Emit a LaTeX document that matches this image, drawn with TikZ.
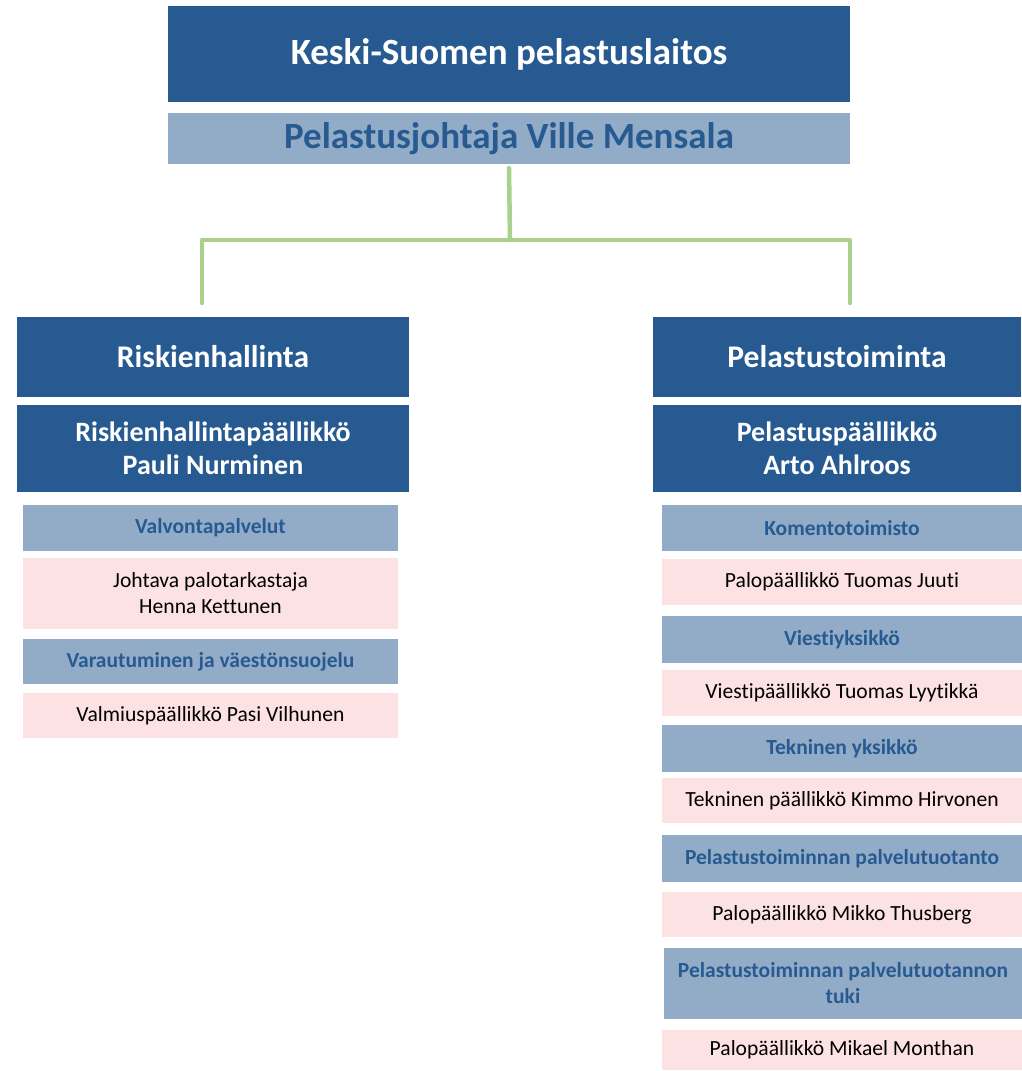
\documentclass[tikz,border=0pt]{standalone}
\usepackage{fontspec}
\setmainfont{Carlito}[Ligatures=NoCommon]
\usetikzlibrary{positioning}

\definecolor{darkblue}{RGB}{39,90,145}
\definecolor{paleblue}{RGB}{146,172,200}
\definecolor{pinkbox}{RGB}{253,226,228}
\definecolor{linkgreen}{RGB}{169,209,142}

\begin{document}
\begin{tikzpicture}[x=1pt,y=-1pt,node distance=8pt,
    unit/.style={fill=darkblue,text=white,inner sep=0pt,outer sep=0pt,align=center,
                 font=\bfseries\fontsize{31.5}{36}\selectfont},
    chief/.style={unit,font=\bfseries\fontsize{28}{33}\selectfont},
    group/.style={fill=paleblue,text=darkblue,inner sep=0pt,outer sep=0pt,align=center,
                  font=\bfseries\fontsize{21.5}{26}\selectfont},
    person/.style={fill=pinkbox,text=black,inner sep=0pt,outer sep=0pt,align=center,
                   font=\fontsize{21.6}{26}\selectfont},
    link/.style={draw=linkgreen,line width=4.5pt,line cap=round,line join=round}]

  \useasboundingbox (0,0) rectangle (1022,1071);

  % top of the organisation
  \node[unit,minimum width=682pt,minimum height=96pt,
        font=\bfseries\fontsize{37}{42}\selectfont] (laitos) at (509,54) {Keski-Suomen pelastuslaitos};
  \node[group,minimum width=682pt,minimum height=51pt,below=11pt of laitos,
        font=\bfseries\fontsize{37}{42}\selectfont] (johtaja) {Pelastusjohtaja Ville Mensala};

  % Riskienhallinta
  \node[unit,minimum width=392pt,minimum height=80pt] (risk) at (213,357) {Riskienhallinta};
  \node[chief,minimum width=392pt,minimum height=87pt,below=8pt of risk] (riskpaal) {Riskienhallintapäällikkö\\Pauli Nurminen};
  \node[group,minimum width=375pt,minimum height=46pt,below=13pt of riskpaal,xshift=-2.5pt] (valvonta) {Valvontapalvelut};
  \node[person,minimum width=375pt,minimum height=71pt,below=7pt of valvonta] (kettunen) {Johtava palotarkastaja\\Henna Kettunen};
  \node[group,minimum width=375pt,minimum height=45pt,below=10pt of kettunen] (varaut) {Varautuminen ja väestönsuojelu};
  \node[person,minimum width=375pt,minimum height=45pt,below=9pt of varaut] (vilhunen) {Valmiuspäällikkö Pasi Vilhunen};

  % Pelastustoiminta
  \node[unit,minimum width=368pt,minimum height=80pt] (pelast) at (837,357) {Pelastustoiminta};
  \node[chief,minimum width=368pt,minimum height=87pt,below=8pt of pelast] (pelpaal) {Pelastuspäällikkö\\Arto Ahlroos};
  \node[group,minimum width=360pt,minimum height=46pt,below=13pt of pelpaal,xshift=5pt] (komento) {Komentotoimisto};
  \node[person,minimum width=360pt,minimum height=46pt,below=8pt of komento] (juuti) {Palopäällikkö Tuomas Juuti};
  \node[group,minimum width=360pt,minimum height=47pt,below=11pt of juuti] (viesti) {Viestiyksikkö};
  \node[person,minimum width=360pt,minimum height=46pt,below=7pt of viesti] (lyytikka) {Viestipäällikkö Tuomas Lyytikkä};
  \node[group,minimum width=360pt,minimum height=47pt,below=9pt of lyytikka] (tekn) {Tekninen yksikkö};
  \node[person,minimum width=360pt,minimum height=45pt,below=6pt of tekn] (hirvonen) {Tekninen päällikkö Kimmo Hirvonen};
  \node[group,minimum width=360pt,minimum height=47pt,below=12pt of hirvonen] (tuotanto) {Pelastustoiminnan palvelutuotanto};
  \node[person,minimum width=360pt,minimum height=45pt,below=10pt of tuotanto] (thusberg) {Palopäällikkö Mikko Thusberg};
  \node[group,minimum width=358pt,minimum height=71pt,below=11pt of thusberg,xshift=1pt] (tuki) {Pelastustoiminnan palvelutuotannon\\tuki};
  \node[person,minimum width=360pt,minimum height=40pt,below=11pt of tuki,xshift=-1pt] (monthan) {Palopäällikkö Mikael Monthan};

  % green connector
  \coordinate (split) at (510,240);
  \coordinate (riskend) at (202,303);
  \coordinate (pelend) at (850,303);
  \path[link] ([yshift=-4pt]johtaja.south) -- (split);
  \path[link] (riskend) |- (split) -| (pelend);
\end{tikzpicture}
\end{document}
